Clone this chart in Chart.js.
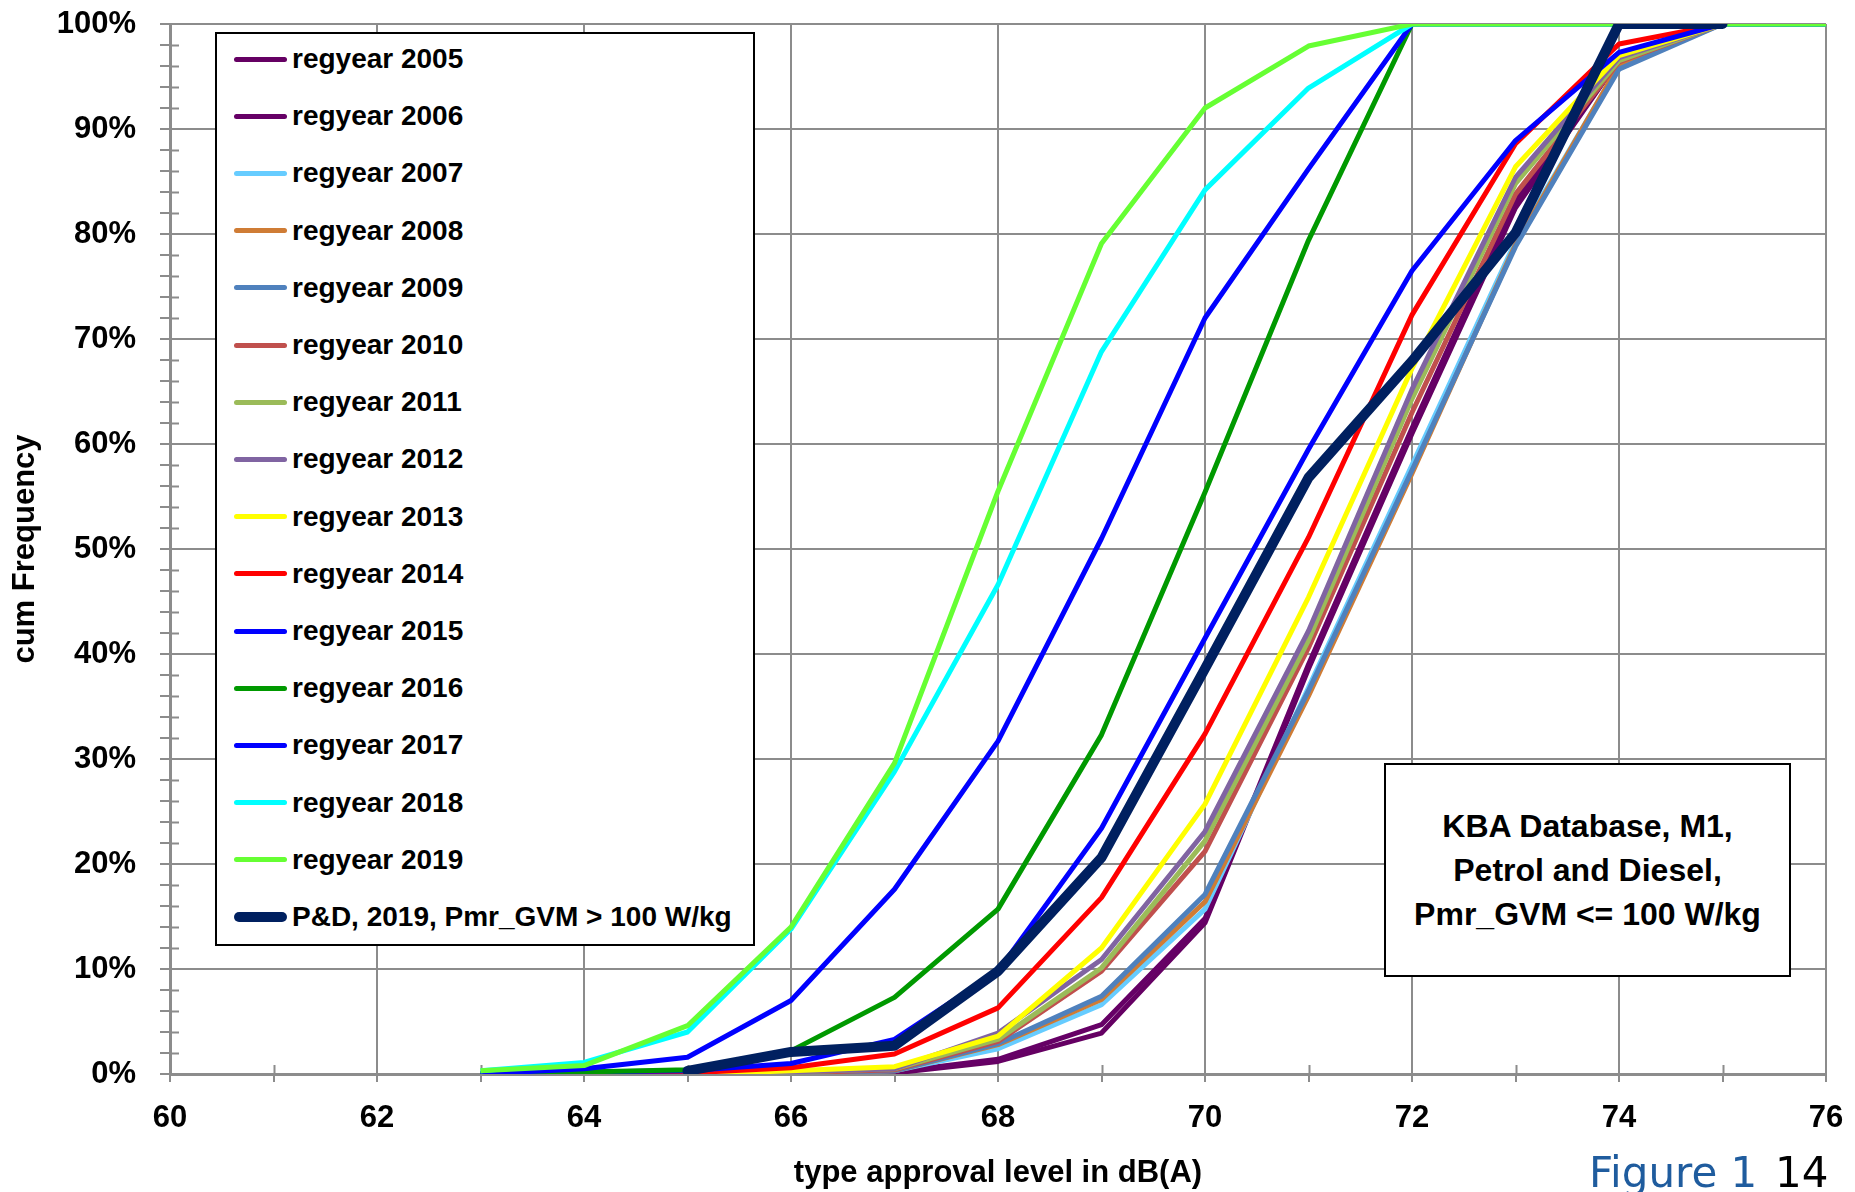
<!DOCTYPE html>
<html>
<head>
<meta charset="utf-8">
<title>cum Frequency</title>
<script src="https://cdn.jsdelivr.net/npm/chart.js@4.4.1/dist/chart.umd.min.js"></script>
<style>
    html, body { margin: 0; padding: 0; background: #fff; overflow: hidden; }
    #wrap { position: relative; width: 1855px; height: 1192px; overflow: hidden; }
    #cumChart { display: block; }
    #legendBox {
        position: absolute; left: 215px; top: 32px; width: 540px; height: 914px;
        box-sizing: border-box; border: 2px solid #000; background: #fff;
        font: bold 28px "Liberation Sans", Arial, sans-serif; color: #000;
    }
    .legendRow { position: absolute; left: 0; height: 34px; width: 100%; }
    .legendSwatch { position: absolute; left: 17px; width: 53px; }
    .legendText { position: absolute; left: 75px; top: 0; line-height: 34px; white-space: nowrap; }
    #noteBox {
        position: absolute; left: 1384px; top: 763px; width: 407px; height: 214px;
        box-sizing: border-box; border: 2px solid #000; background: #fff;
        display: flex; align-items: center; justify-content: center; text-align: center;
        font: bold 32px "Liberation Sans", Arial, sans-serif; line-height: 44px; color: #000;
    }
    .figText { position: absolute; top: 1152px; font: 42px "DejaVu Sans", Verdana, sans-serif; line-height: 42px; white-space: nowrap; }
</style>
</head>
<body>
<div id="wrap">
    <canvas id="cumChart" width="1855" height="1192"></canvas>
    <div id="legendBox"></div>
    <div id="noteBox"><div>KBA Database, M1,<br>Petrol and Diesel,<br>Pmr_GVM &lt;= 100 W/kg</div></div>
    <span class="figText" style="left:1589px; color:#1f5c9e;">Figure 1</span>
    <span class="figText" style="left:1775px; color:#000;">14</span>
</div>
<script>
// type approval levels in dB(A)
const levels = [63, 64, 65, 66, 67, 68, 69, 70, 71, 72, 73, 74, 75, 76];

const seriesNames = [
    'regyear 2005', 'regyear 2006', 'regyear 2007', 'regyear 2008', 'regyear 2009',
    'regyear 2010', 'regyear 2011', 'regyear 2012', 'regyear 2013', 'regyear 2014',
    'regyear 2015', 'regyear 2016', 'regyear 2017', 'regyear 2018', 'regyear 2019',
    'P&D, 2019, Pmr_GVM > 100 W/kg'
];

const seriesColors = [
    '#650063', '#660066', '#66ccff', '#cf7c35', '#4f81bd',
    '#c0504d', '#9bbb59', '#8064a2', '#ffff00', '#ff0000',
    '#0000ff', '#009900', '#0000ff', '#00ffff', '#66ff33',
    '#002060'
];

// cumulative frequency in %
const y2005 = [0, 0, 0, 0, 0.1, 1.2, 3.9, 14.4, 38.6, 61.0, 82.5, 96.6, 100, 100];
const y2006 = [0, 0, 0, 0, 0.2, 1.4, 4.7, 14.8, 39.0, 61.5, 83.2, 96.8, 100, 100];
const y2007 = [0, 0, 0, 0.1, 0.3, 2.4, 6.6, 15.7, 36.8, 58.0, 79.3, 96.0, 100, 100];
const y2008 = [0, 0, 0, 0.1, 0.3, 2.8, 7.1, 16.4, 36.0, 57.2, 79.0, 96.1, 100, 100];
const y2009 = [0, 0, 0, 0.1, 0.3, 2.9, 7.4, 17.1, 36.5, 57.5, 78.8, 95.7, 100, 100];
const y2010 = [0, 0, 0, 0.1, 0.4, 3.1, 9.8, 21.2, 40.6, 63.0, 83.8, 96.4, 100, 100];
const y2011 = [0, 0, 0, 0.2, 0.5, 3.3, 10.1, 22.2, 41.3, 64.3, 84.8, 96.5, 100, 100];
const y2012 = [0, 0, 0, 0.2, 0.5, 3.9, 10.9, 23.1, 42.2, 65.2, 85.4, 96.8, 100, 100];
const y2013 = [0, 0, 0, 0.3, 0.7, 3.6, 12.0, 25.7, 45.4, 67.2, 86.4, 97.0, 100, 100];
const y2014 = [0, 0, 0.1, 0.6, 1.9, 6.3, 16.8, 32.4, 51.1, 72.3, 88.6, 98.1, 100, 100];
const y2015 = [0, 0.2, 0.3, 1.0, 3.3, 9.8, 23.4, 41.5, 59.5, 76.5, 88.9, 97.3, 100, 100];
const y2016 = [0, 0.2, 0.4, 2.2, 7.3, 15.7, 32.3, 55.4, 79.4, 100, 100, 100, 100, 100];
const y2017 = [0, 0.5, 1.6, 7.0, 17.6, 31.7, 51.0, 72.0, 86.2, 100, 100, 100, 100, 100];
const y2018 = [0.3, 1.1, 4.0, 13.8, 28.8, 46.6, 68.8, 84.2, 93.9, 100, 100, 100, 100, 100];
const y2019 = [0.3, 0.8, 4.6, 14.0, 29.6, 55.5, 79.1, 92.0, 97.9, 100, 100, 100, 100, 100];
const yPD = [null, null, 0.3, 2.1, 2.7, 9.8, 20.6, 38.6, 56.8, 67.9, 80.1, 100, 100, null];

const seriesValues = [
    y2005, y2006, y2007, y2008, y2009, y2010, y2011, y2012,
    y2013, y2014, y2015, y2016, y2017, y2018, y2019, yPD
];

const gridGray = '#8c8c8c';
const axisFont = { family: '"Liberation Sans", Arial, sans-serif', size: 31, weight: 'bold' };

// Build datasets, last series drawn on top
const datasets = seriesValues.map((vals, i) => {
    const isPD = i === seriesValues.length - 1;
    return {
        label: seriesNames[i],
        data: levels.map((lv, k) => ({ x: lv, y: vals[k] })),
        borderColor: seriesColors[i],
        backgroundColor: seriesColors[i],
        borderWidth: isPD ? 10 : 5,
        borderJoinStyle: 'round',
        borderCapStyle: isPD ? 'round' : 'butt',
        pointRadius: 0,
        tension: 0,
        fill: false,
        spanGaps: false,
        order: seriesValues.length - 1 - i
    };
});

// small tick marks poking into the plot, like the minor ticks of the original
const innerTicks = {
    id: 'innerTicks',
    beforeDatasetsDraw(chart) {
        const { ctx, scales: { x, y } } = chart;
        ctx.save();
        ctx.strokeStyle = gridGray;
        ctx.lineWidth = 2;
        ctx.beginPath();
        x.ticks.forEach(t => {
            if (t.value % 2 !== 0) {
                const px = Math.round(x.getPixelForValue(t.value)) + 0.5;
                ctx.moveTo(px, y.bottom);
                ctx.lineTo(px, y.bottom - 9);
            }
        });
        y.ticks.forEach(t => {
            if (t.value % 10 !== 0) {
                const py = Math.round(y.getPixelForValue(t.value)) + 0.5;
                ctx.moveTo(x.left, py);
                ctx.lineTo(x.left + 9, py);
            }
        });
        ctx.stroke();
        ctx.restore();
    }
};

const ctx = document.getElementById('cumChart').getContext('2d');
new Chart(ctx, {
    type: 'line',
    data: { datasets: datasets },
    plugins: [innerTicks],
    options: {
        responsive: false,
        animation: false,
        devicePixelRatio: 1,
        layout: { padding: { top: 24, right: 29, bottom: 0, left: 0 } },
        plugins: {
            legend: { display: false },
            tooltip: { enabled: false }
        },
        scales: {
            x: {
                type: 'linear',
                min: 60,
                max: 76,
                ticks: {
                    stepSize: 1,
                    autoSkip: false,
                    maxRotation: 0,
                    padding: 18,
                    color: '#000',
                    font: axisFont,
                    callback: v => (v % 2 === 0 ? v : '')
                },
                grid: {
                    color: c => (c.tick && c.tick.value % 2 === 0 ? gridGray : 'rgba(0,0,0,0)'),
                    tickColor: gridGray,
                    lineWidth: 2,
                    tickLength: 8
                },
                border: { color: gridGray, width: 3 },
                title: {
                    display: true,
                    text: 'type approval level in dB(A)',
                    color: '#000',
                    font: axisFont,
                    padding: { top: 0, bottom: 0 }
                },
                afterFit: s => {
                    s.height = 118;
                    s.paddingLeft = 0;
                    s.paddingRight = 0;
                }
            },
            y: {
                min: 0,
                max: 100,
                ticks: {
                    stepSize: 2,
                    autoSkip: false,
                    padding: 24,
                    color: '#000',
                    font: axisFont,
                    callback: v => (v % 10 === 0 ? v + '%' : '')
                },
                grid: {
                    color: c => (c.tick && c.tick.value % 10 === 0 ? gridGray : 'rgba(0,0,0,0)'),
                    tickColor: gridGray,
                    lineWidth: 2,
                    tickLength: 10
                },
                border: { color: gridGray, width: 3 },
                title: {
                    display: true,
                    text: 'cum Frequency',
                    color: '#000',
                    font: axisFont,
                    padding: { top: 7, bottom: 0 }
                },
                afterFit: s => {
                    s.width = 170;
                    s.paddingTop = 0;
                    s.paddingBottom = 0;
                }
            }
        }
    }
});

// Legend inside the plot, built from the same names and colours
const legendBox = document.getElementById('legendBox');
seriesNames.forEach((name, i) => {
    const isPD = i === seriesNames.length - 1;
    const row = document.createElement('div');
    row.className = 'legendRow';
    row.style.top = (25 + i * 57.2 - 17) + 'px';

    const swatch = document.createElement('span');
    swatch.className = 'legendSwatch';
    const h = isPD ? 10 : 5;
    swatch.style.height = h + 'px';
    swatch.style.top = (17 - h / 2) + 'px';
    swatch.style.background = seriesColors[i];
    swatch.style.borderRadius = (h / 2) + 'px';

    const text = document.createElement('span');
    text.className = 'legendText';
    text.textContent = name;

    row.appendChild(swatch);
    row.appendChild(text);
    legendBox.appendChild(row);
});
</script>
</body>
</html>
